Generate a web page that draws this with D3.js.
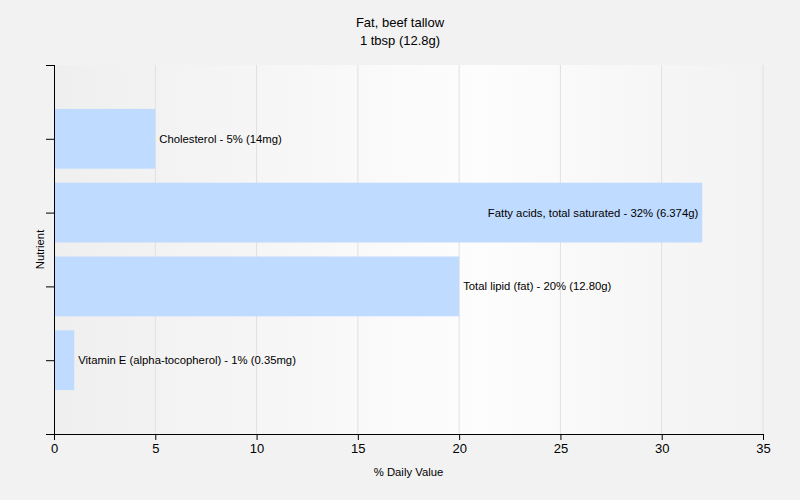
<!DOCTYPE html>
<html>
<head>
<meta charset="utf-8">
<script src="https://cdn.jsdelivr.net/npm/d3@7"></script>
<style>
  body { margin: 0; background: #f2f2f2; }
  text { font-family: "Liberation Sans", Arial, sans-serif; font-size: 12px; fill: #000; }
</style>
</head>
<body>
<svg id="chart" width="800" height="500"></svg>
<script>
// data
var nutrients = ["Cholesterol", "Fatty acids, total saturated", "Total lipid (fat)", "Vitamin E (alpha-tocopherol)"];
var dailyValue = [5, 32, 20, 1];
var amounts = ["14mg", "6.374g", "12.80g", "0.35mg"];
var position = [4, 3, 2, 1];
var xTicks = [0, 5, 10, 15, 20, 25, 30, 35];

var svg = d3.select("#chart");
var m = { left: 54, right: 763, top: 65, bottom: 434 };

var x = d3.scaleLinear().domain([0, 35]).range([m.left, m.right]);
var y = d3.scaleLinear().domain([0, 5]).range([m.bottom, m.top]);
var barH = (y(0) - y(1)) * 0.81;

var defs = svg.append("defs");
var grad = defs.append("linearGradient").attr("id", "bg");
grad.append("stop").attr("offset", "0%").attr("stop-color", "#efefef");
grad.append("stop").attr("offset", "60%").attr("stop-color", "#fdfdfd");
grad.append("stop").attr("offset", "100%").attr("stop-color", "#f2f2f2");

svg.append("rect")
  .attr("x", m.left).attr("y", m.top)
  .attr("width", m.right - m.left).attr("height", m.bottom - m.top)
  .attr("fill", "url(#bg)");

// gridlines
svg.append("g").selectAll("line").data(xTicks.slice(1)).enter().append("line")
  .attr("x1", function (d) { return x(d); }).attr("x2", function (d) { return x(d); })
  .attr("y1", m.top).attr("y2", m.bottom)
  .attr("stroke", "#e0e0e0");

// bars
svg.append("g").selectAll("rect").data(nutrients).enter().append("rect")
  .attr("x", x(0))
  .attr("y", function (d, i) { return y(position[i]) - barH / 2; })
  .attr("width", function (d, i) { return x(dailyValue[i]) - x(0); })
  .attr("height", barH)
  .attr("fill", "#bfdbff");

// labels
svg.append("g").selectAll("text").data(nutrients).enter().append("text")
  .attr("x", function (d, i) {
    return dailyValue[i] > 30 ? x(dailyValue[i]) - 4 : x(dailyValue[i]) + 4;
  })
  .attr("y", function (d, i) { return y(position[i]); })
  .attr("dy", "0.35em")
  .attr("text-anchor", function (d, i) { return dailyValue[i] > 30 ? "end" : "start"; })
  .style("font-size", "11.3px")
  .text(function (d, i) { return d + " - " + dailyValue[i] + "% (" + amounts[i] + ")"; });

// axes
var xAxis = svg.append("g").attr("transform", "translate(0," + m.bottom + ")")
  .call(d3.axisBottom(x).tickValues(xTicks).tickSize(6).tickSizeOuter(0).tickPadding(4));
xAxis.select(".domain").attr("d", "M" + (m.left - 8) + ",0.5H" + m.right);
xAxis.selectAll("text").style("font-size", "13px");

var yAxis = svg.append("g").attr("transform", "translate(" + m.left + ",0)")
  .call(d3.axisLeft(y).tickValues([1, 2, 3, 4, 5]).tickSize(8).tickSizeOuter(0).tickFormat(""));
yAxis.select(".domain").attr("d", "M0.5," + m.top + "V" + m.bottom);

svg.selectAll(".domain, .tick line").attr("stroke", "#000");

// titles
svg.append("text").attr("x", 400).attr("y", 27).attr("text-anchor", "middle")
  .style("font-size", "13px").text("Fat, beef tallow");
svg.append("text").attr("x", 400).attr("y", 45).attr("text-anchor", "middle")
  .style("font-size", "13px").text("1 tbsp (12.8g)");
svg.append("text").attr("x", (m.left + m.right) / 2).attr("y", 476).attr("text-anchor", "middle")
  .style("font-size", "11.3px").text("% Daily Value");
svg.append("text").attr("transform", "translate(44," + ((m.top + m.bottom) / 2) + ") rotate(-90)")
  .attr("text-anchor", "middle").style("font-size", "11.3px").text("Nutrient");
</script>
</body>
</html>
